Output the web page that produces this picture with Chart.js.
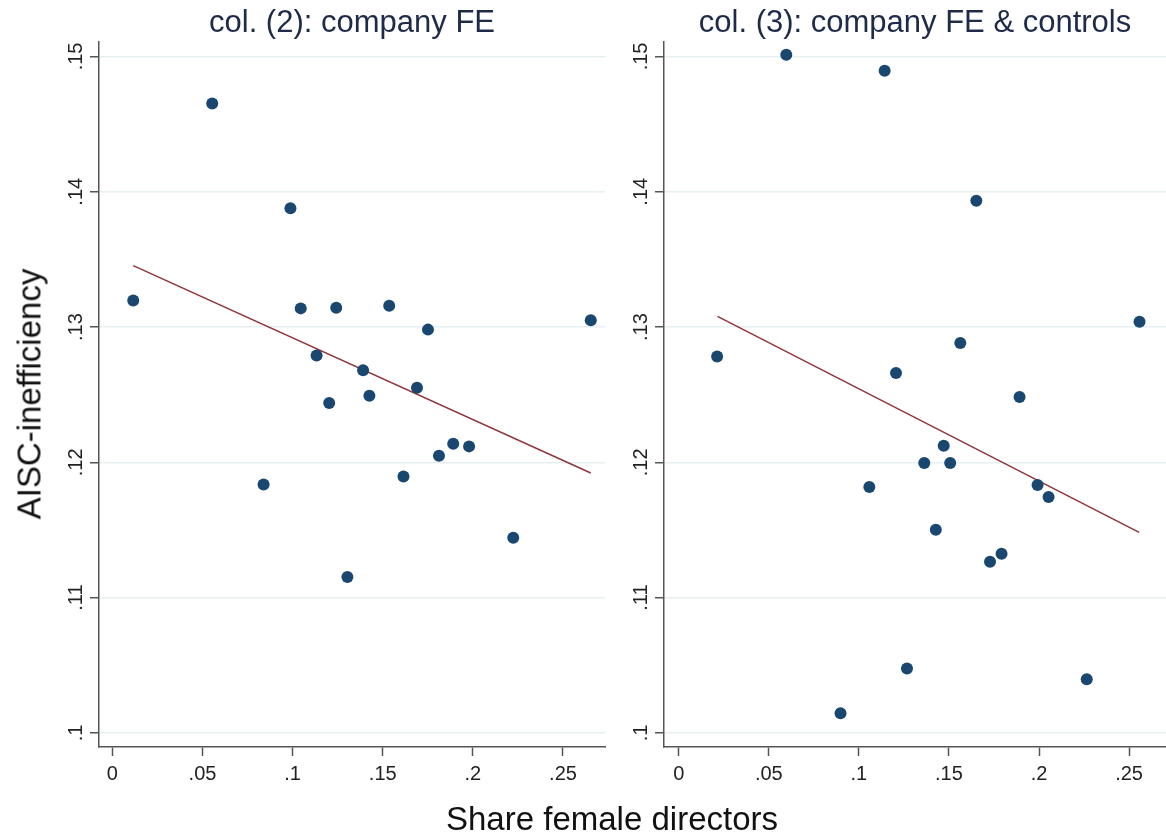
<!DOCTYPE html>
<html>
<head>
<meta charset="utf-8">
<script src="https://cdn.jsdelivr.net/npm/chart.js@4.4.0/dist/chart.umd.min.js"></script>
<style>
  html, body { margin: 0; padding: 0; background: #fff; }
  #page { position: relative; width: 1166px; height: 838px; overflow: hidden; font-family: 'Liberation Sans', Arial, sans-serif; }
  .panel { position: absolute; top: 0; }
  #left { left: 0; }
  #right { left: 612px; }
  .axis-title { position: absolute; font-size: 33px; line-height: 33px; color: #111; white-space: nowrap; }
  #ytitle { left: 29px; top: 394px; transform: translate(-50%, -50%) rotate(-90deg); }
  #xtitle { left: 612px; top: 818px; transform: translate(-50%, -50%); }
</style>
</head>
<body>
<div id="page">
  <div class="panel" id="left"><canvas id="chartFE" width="612" height="838"></canvas></div>
  <div class="panel" id="right"><canvas id="chartCtrl" width="554" height="838"></canvas></div>
  <div class="axis-title" id="ytitle">AISC-inefficiency</div>
  <div class="axis-title" id="xtitle">Share female directors</div>
</div>
<script>
// col. (2): company FE
const shareFE = [0.0116, 0.0554, 0.0988, 0.1045, 0.1242, 0.1536, 0.1751, 0.2654, 0.1133, 0.1391,
                 0.1690, 0.1203, 0.1426, 0.1812, 0.1891, 0.1979, 0.1615, 0.0839, 0.2224, 0.1304];
const aiscFE = [0.13197, 0.14652, 0.13878, 0.13138, 0.13143, 0.13158, 0.12981, 0.13050, 0.12789, 0.12680,
                0.12552, 0.12439, 0.12493, 0.12049, 0.12138, 0.12118, 0.11896, 0.11837, 0.11442, 0.11152];
const fitFEx = [0.0116, 0.2654];
const fitFEy = [0.13454, 0.11921];

// col. (3): company FE & controls
const shareCtrl = [0.0597, 0.1143, 0.1652, 0.2558, 0.0213, 0.1563, 0.1206, 0.1892, 0.1471, 0.1363,
                   0.1507, 0.1058, 0.1992, 0.2053, 0.1427, 0.1792, 0.1728, 0.1267, 0.2265, 0.0898];
const aiscCtrl = [0.15012, 0.14894, 0.13933, 0.13040, 0.12783, 0.12882, 0.12660, 0.12483, 0.12123, 0.11995,
                  0.11995, 0.11817, 0.11832, 0.11743, 0.11501, 0.11324, 0.11265, 0.10476, 0.10397, 0.10146];
const fitCtrlX = [0.0215, 0.2556];
const fitCtrlY = [0.13079, 0.11482];

const xTickValues = [0, 0.05, 0.1, 0.15, 0.2, 0.25];
const xTickLabels = ['0', '.05', '.1', '.15', '.2', '.25'];
const yTickValues = [0.1, 0.11, 0.12, 0.13, 0.14, 0.15];
const yTickLabels = ['.1', '.11', '.12', '.13', '.14', '.15'];

const FONT = "'Liberation Sans', Arial, sans-serif";
const AXIS_GRAY = '#555';

// rotated y tick labels, like Stata draws them
const yLabelPlugin = {
    id: 'yLabels',
    afterDraw(chart) {
        const s = chart.scales.y;
        const ctx = chart.ctx;
        ctx.save();
        ctx.font = '20px ' + FONT;
        ctx.fillStyle = '#222';
        ctx.textAlign = 'center';
        ctx.textBaseline = 'middle';
        yTickValues.forEach((v, i) => {
            ctx.save();
            ctx.translate(chart.chartArea.left - 23, s.getPixelForValue(v));
            ctx.rotate(-Math.PI / 2);
            ctx.fillText(yTickLabels[i], 0, 0);
            ctx.restore();
        });
        ctx.restore();
    }
};

function makePanel(id, title, xs, ys, fitX, fitY, axisWidth, padRight, xMin, xMax) {
    const ctx = document.getElementById(id).getContext('2d');
    return new Chart(ctx, {
        type: 'scatter',
        data: {
            datasets: [{
                data: xs.map((x, i) => ({ x: x, y: ys[i] })),
                backgroundColor: '#1a476f',
                borderWidth: 0,
                pointRadius: 6,
                pointHoverRadius: 6
            }, {
                type: 'line',
                data: fitX.map((x, i) => ({ x: x, y: fitY[i] })),
                borderColor: '#90353b',
                borderWidth: 1.5,
                pointRadius: 0,
                fill: false,
                tension: 0
            }]
        },
        options: {
            responsive: false,
            animation: false,
            layout: { autoPadding: false, padding: { left: 0, right: padRight, top: 0, bottom: 0 } },
            plugins: {
                legend: { display: false },
                tooltip: { enabled: false },
                title: {
                    display: true,
                    text: title,
                    fullSize: false,
                    color: '#1e2b48',
                    font: { family: FONT, size: 31, weight: 'normal', lineHeight: 1.18 },
                    padding: { top: 5, bottom: 0 }
                }
            },
            scales: {
                x: {
                    type: 'linear',
                    min: xMin,
                    max: xMax,
                    afterBuildTicks: s => { s.ticks = xTickValues.map(v => ({ value: v })); },
                    afterFit: s => { s.height = 91; },
                    grid: { drawOnChartArea: false, drawTicks: true, tickLength: 9, tickColor: AXIS_GRAY, tickWidth: 1.5 },
                    border: { display: true, color: AXIS_GRAY, width: 1.5 },
                    ticks: {
                        autoSkip: false,
                        maxRotation: 0,
                        padding: 6,
                        color: '#222',
                        font: { family: FONT, size: 20 },
                        callback: (v, i) => xTickLabels[i]
                    }
                },
                y: {
                    type: 'linear',
                    min: 0.09896,
                    max: 0.1511,
                    afterBuildTicks: s => { s.ticks = yTickValues.map(v => ({ value: v })); },
                    afterFit: s => { s.width = axisWidth; },
                    grid: { color: '#e6eff1', lineWidth: 1.5, drawTicks: true, tickLength: 9, tickColor: AXIS_GRAY, tickWidth: 1.5 },
                    border: { display: true, color: AXIS_GRAY, width: 1.5 },
                    ticks: { display: false }
                }
            }
        },
        plugins: [yLabelPlugin]
    });
}

makePanel('chartFE', 'col. (2): company FE', shareFE, aiscFE, fitFEx, fitFEy, 99, 7, -0.0074, 0.2733);
makePanel('chartCtrl', 'col. (3): company FE & controls', shareCtrl, aiscCtrl, fitCtrlX, fitCtrlY, 52, 0, -0.0082, 0.2705);
</script>
</body>
</html>
